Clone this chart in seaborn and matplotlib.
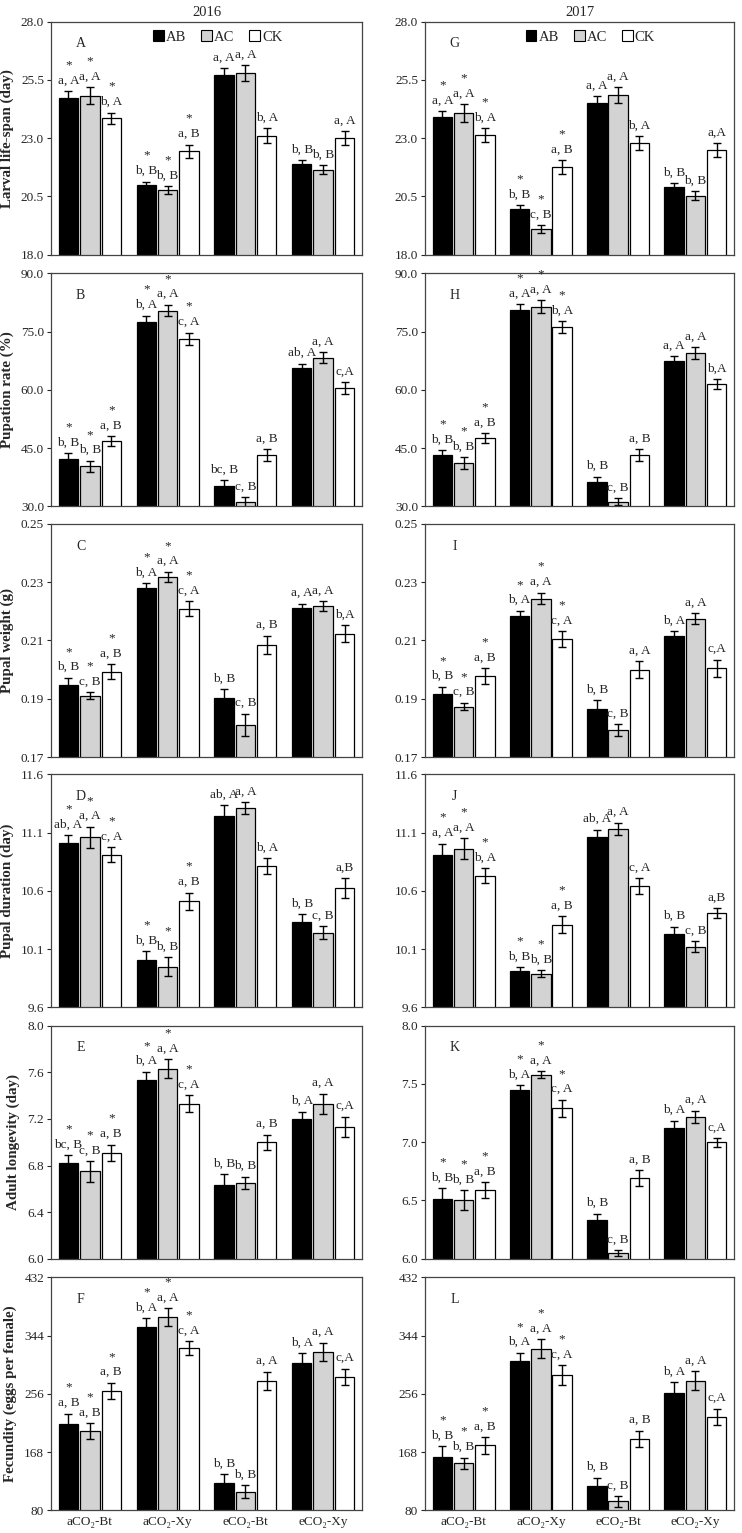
import pandas as pd
import matplotlib.pyplot as plt
import seaborn as sns
from matplotlib.patches import Patch
from matplotlib.container import BarContainer

# --------------------------------
# data
# --------------------------------
groups = ["aCO₂-Bt", "aCO₂-Xy", "eCO₂-Bt", "eCO₂-Xy"]
treatments = ["AB", "AC", "CK"]
colors = ["black", "#d3d3d3", "white"]
star_groups = [True, True, False, False]   # "*" above every bar of these groups

# rows: AB, AC, CK ; columns: groups
larval_2016 = [[24.74, 21.00, 25.71, 21.89], [24.83, 20.77, 25.80, 21.64], [23.86, 22.43, 23.11, 23.00]]
larval_2016_se = [[0.27, 0.14, 0.29, 0.16], [0.37, 0.17, 0.33, 0.19], [0.24, 0.29, 0.31, 0.29]]
larval_2016_lab = [["a, A", "b, B", "a, A", "b, B"], ["a, A", "b, B", "a, A", "b, B"], ["b, A", "a, B", "b, A", "a, A"]]

larval_2017 = [[23.89, 19.96, 24.50, 20.89], [24.07, 19.11, 24.86, 20.53], [23.14, 21.76, 22.79, 22.50]]
larval_2017_se = [[0.26, 0.17, 0.30, 0.17], [0.39, 0.17, 0.33, 0.19], [0.29, 0.29, 0.29, 0.29]]
larval_2017_lab = [["a, A", "b, B", "a, A", "b, B"], ["a, A", "c, B", "a, A", "b, B"], ["b, A", "a, B", "b, A", "a,A"]]

pupation_2016 = [[42.3, 77.5, 35.2, 65.5], [40.3, 80.4, 31.1, 68.3], [46.7, 73.1, 43.2, 60.4]]
pupation_2016_se = [[1.3, 1.6, 1.5, 1.2], [1.4, 1.5, 1.2, 1.4], [1.3, 1.6, 1.5, 1.5]]
pupation_2016_lab = [["b, B", "b, A", "bc, B", "ab, A"], ["b, B", "a, A", "c, B", "a, A"], ["a, B", "c, A", "a, B", "c,A"]]

pupation_2017 = [[43.2, 80.5, 36.2, 67.5], [41.2, 81.4, 31.2, 69.4], [47.6, 76.1, 43.2, 61.5]]
pupation_2017_se = [[1.3, 1.5, 1.4, 1.2], [1.5, 1.6, 0.9, 1.5], [1.3, 1.6, 1.5, 1.3]]
pupation_2017_lab = [["b, B", "a, A", "b, B", "a, A"], ["b, B", "a, A", "c, B", "a, A"], ["a, B", "b, A", "a, B", "b,A"]]

weight_2016 = [[0.1946, 0.2279, 0.1903, 0.2211], [0.1911, 0.2319, 0.1810, 0.2217], [0.1993, 0.2209, 0.2086, 0.2124]]
weight_2016_se = [[0.0026, 0.0017, 0.0029, 0.0016], [0.0012, 0.0017, 0.0039, 0.0017], [0.0026, 0.0026, 0.0031, 0.0028]]
weight_2016_lab = [["b, B", "b, A", "b, B", "a, A"], ["c, B", "a, A", "c, B", "a, A"], ["a, B", "c, A", "a, B", "b,A"]]

weight_2017 = [[0.1915, 0.2185, 0.1865, 0.2117], [0.1873, 0.2244, 0.1793, 0.2175], [0.1977, 0.2105, 0.2000, 0.2004]]
weight_2017_se = [[0.0026, 0.0017, 0.0030, 0.0016], [0.0013, 0.0020, 0.0020, 0.0018], [0.0028, 0.0028, 0.0030, 0.0030]]
weight_2017_lab = [["b, B", "b, A", "b, B", "b, A"], ["c, B", "a, A", "c, B", "a, A"], ["a, B", "c, A", "a, A", "c,A"]]

pupdur_2016 = [[11.01, 10.01, 11.24, 10.33], [11.06, 9.95, 11.31, 10.24], [10.91, 10.51, 10.81, 10.62]]
pupdur_2016_se = [[0.066, 0.072, 0.097, 0.069], [0.089, 0.080, 0.050, 0.054], [0.063, 0.074, 0.069, 0.086]]
pupdur_2016_lab = [["ab, A", "b, B", "ab, A", "b, B"], ["a, A", "b, B", "a, A", "c, B"], ["c, A", "a, B", "b, A", "a,B"]]

pupdur_2017 = [[10.91, 9.91, 11.06, 10.23], [10.96, 9.89, 11.13, 10.12], [10.73, 10.31, 10.64, 10.41]]
pupdur_2017_se = [[0.094, 0.034, 0.063, 0.063], [0.089, 0.030, 0.054, 0.049], [0.066, 0.074, 0.066, 0.040]]
pupdur_2017_lab = [["a, A", "b, B", "ab, A", "b, B"], ["a, A", "b, B", "a, A", "c, B"], ["b, A", "a, B", "c, A", "a,B"]]

adult_2016 = [[6.82, 7.53, 6.63, 7.20], [6.75, 7.63, 6.65, 7.33], [6.91, 7.33, 7.00, 7.13]]
adult_2016_se = [[0.069, 0.074, 0.094, 0.063], [0.089, 0.080, 0.054, 0.086], [0.069, 0.074, 0.066, 0.089]]
adult_2016_lab = [["bc, B", "b, A", "b, B", "b, A"], ["c, B", "a, A", "b, B", "a, A"], ["a, B", "c, A", "a, B", "c,A"]]

adult_2017 = [[6.51, 7.45, 6.33, 7.12], [6.50, 7.58, 6.05, 7.22], [6.59, 7.29, 6.69, 7.00]]
adult_2017_se = [[0.094, 0.037, 0.057, 0.066], [0.086, 0.031, 0.023, 0.051], [0.069, 0.074, 0.069, 0.037]]
adult_2017_lab = [["b, B", "b, A", "b, B", "b, A"], ["b, B", "a, A", "c, B", "a, A"], ["a, B", "c, A", "a, B", "c,A"]]

fecund_2016 = [[210, 357, 121, 302], [199.5, 372, 108, 319.5], [260, 325, 276, 282]]
fecund_2016_se = [[16, 13.6, 14, 15.6], [12, 13.6, 9.6, 14], [12.6, 10.6, 13.6, 12]]
fecund_2016_lab = [["a, B", "b, A", "b, B", "b, A"], ["a, B", "a, A", "b, B", "a, A"], ["a, B", "c, A", "a, A", "c,A"]]

fecund_2017 = [[161, 305, 116, 257.5], [151, 324, 93.6, 276], [178, 284, 188, 221]]
fecund_2017_se = [[15.6, 13, 13, 15.6], [8.6, 14.6, 8, 14.6], [12.6, 15, 12, 12.6]]
fecund_2017_lab = [["b, B", "b, A", "b, B", "b, A"], ["b, B", "a, A", "c, B", "a, A"], ["a, B", "c, A", "a, B", "c,A"]]

ylabels = ["Larval life-span (day)", "Pupation rate (%)", "Pupal weight (g)",
           "Pupal duration (day)", "Adult longevity (day)", "Fecundity (eggs per female)"]
yticks = [[18.0, 20.5, 23.0, 25.5, 28.0], [30.0, 45.0, 60.0, 75.0, 90.0], [0.17, 0.19, 0.21, 0.23, 0.25],
          [9.6, 10.1, 10.6, 11.1, 11.6], [6.0, 6.4, 6.8, 7.2, 7.6, 8.0], [80, 168, 256, 344, 432]]
yticks_k = [6.0, 6.5, 7.0, 7.5, 8.0]
tick_fmt = ["{:.1f}", "{:.1f}", "{:.2f}", "{:.1f}", "{:.1f}", "{:.0f}"]

panels_2016 = [(larval_2016, larval_2016_se, larval_2016_lab, "A"),
               (pupation_2016, pupation_2016_se, pupation_2016_lab, "B"),
               (weight_2016, weight_2016_se, weight_2016_lab, "C"),
               (pupdur_2016, pupdur_2016_se, pupdur_2016_lab, "D"),
               (adult_2016, adult_2016_se, adult_2016_lab, "E"),
               (fecund_2016, fecund_2016_se, fecund_2016_lab, "F")]
panels_2017 = [(larval_2017, larval_2017_se, larval_2017_lab, "G"),
               (pupation_2017, pupation_2017_se, pupation_2017_lab, "H"),
               (weight_2017, weight_2017_se, weight_2017_lab, "I"),
               (pupdur_2017, pupdur_2017_se, pupdur_2017_lab, "J"),
               (adult_2017, adult_2017_se, adult_2017_lab, "K"),
               (fecund_2017, fecund_2017_se, fecund_2017_lab, "L")]

# --------------------------------
# style
# --------------------------------
sns.set_style("ticks")
plt.rcParams["font.family"] = ["Liberation Serif", "DejaVu Serif"]
plt.rcParams["font.size"] = 9

W, H = 742, 1533
fig = plt.figure(figsize=(W / 100, H / 100), dpi=100)

col_left = [(51, 311), (425, 309)]
row_tops = [21.7, 273.3, 524, 774.3, 1025.7, 1277.3]
ax_h = 233


def draw_panel(ax, means, ses, labs, letter, row):
    df = pd.DataFrame({
        "group": [g for t in treatments for g in groups],
        "treat": [t for t in treatments for g in groups],
        "value": [v for row_vals in means for v in row_vals],
    })
    sns.barplot(data=df, x="group", y="value", hue="treat", order=groups, hue_order=treatments,
                palette=colors, edgecolor="black", linewidth=0.9, width=0.825, gap=0.09,
                errorbar=None, legend=False, ax=ax)
    bar_conts = [c for c in ax.containers if isinstance(c, BarContainer)]
    for ti, cont in enumerate(bar_conts):
        bars = sorted(cont.patches, key=lambda p: p.get_x())
        for gi, bar in enumerate(bars):
            x = bar.get_x() + bar.get_width() / 2
            m = means[ti][gi]
            e = ses[ti][gi]
            ax.errorbar(x, m, yerr=e, fmt="none", ecolor="black", elinewidth=1.0,
                        capsize=3.2, capthick=1.0)
            ax.annotate(labs[ti][gi], (x, m + e), xytext=(0, 5.5), textcoords="offset points",
                        ha="center", va="baseline", fontsize=9.5)
            if star_groups[gi]:
                ax.annotate("*", (x, m + e), xytext=(0, 16.5), textcoords="offset points",
                            ha="center", va="baseline", fontsize=9.5)
    ax.text(0.095, 0.905, letter, transform=ax.transAxes, ha="center", va="center", fontsize=10)
    ax.set_xlim(-0.5, 3.5)
    ax.set_xlabel("")
    ax.set_ylabel("")
    for s in ax.spines.values():
        s.set_visible(True)
        s.set_color("#444444")
        s.set_linewidth(0.9)
    ax.tick_params(axis="x", length=0)
    ax.tick_params(axis="y", direction="out", length=3, width=0.8, labelsize=9.5, pad=2)
    if row < 5:
        ax.set_xticklabels([])
    else:
        ax.set_xticks(range(4))
        ax.set_xticklabels(groups, fontsize=9.5)
        ax.tick_params(axis="x", pad=4)


for ci, panels in enumerate([panels_2016, panels_2017]):
    x0, w = col_left[ci]
    for r, (means, ses, labs, letter) in enumerate(panels):
        top = row_tops[r]
        ax = fig.add_axes([x0 / W, 1 - (top + ax_h) / H, w / W, ax_h / H])
        draw_panel(ax, means, ses, labs, letter, r)
        ticks = yticks_k if letter == "K" else yticks[r]
        ax.set_ylim(ticks[0], ticks[-1])
        ax.set_yticks(ticks)
        ax.set_yticklabels([tick_fmt[r].format(t) for t in ticks])
        if ci == 0:
            ax.set_ylabel(ylabels[r], fontweight="bold", fontsize=10.8, labelpad=5)
        if r == 0:
            ax.set_title("2016" if ci == 0 else "2017", fontsize=10.5, pad=4)
            handles = [Patch(facecolor=c, edgecolor="black", linewidth=0.8) for c in colors]
            ax.legend(handles, treatments, loc="upper center", bbox_to_anchor=(0.535, 1.02), ncol=3,
                      frameon=False, handlelength=0.75, handleheight=0.75, handletextpad=0.15,
                      columnspacing=1.0, fontsize=10.5)

fig.savefig("out.png", dpi=100)
